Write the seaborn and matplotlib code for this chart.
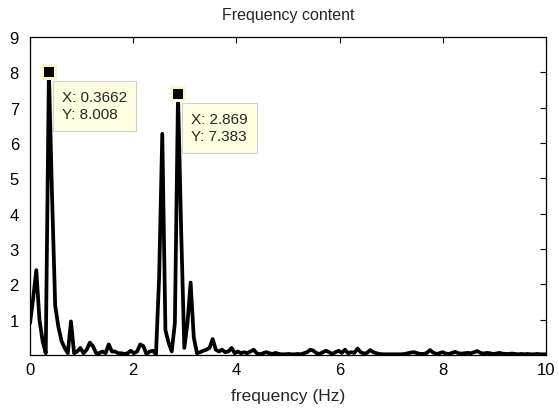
import numpy as np
import pandas as pd
import matplotlib
matplotlib.use("Agg")
import matplotlib.pyplot as plt
import seaborn as sns

# frequency resolution of the spectrum (Hz per bin)
df_hz = 0.061035
amplitude = [
    0.9, 1.6, 2.4, 1.0, 0.4, 0.05, 8.008, 4.5, 1.4, 0.8,
    0.4, 0.2, 0.05, 0.95, 0.05, 0.1, 0.2, 0.05, 0.15, 0.35,
    0.25, 0.05, 0.05, 0.1, 0.05, 0.3, 0.1, 0.1, 0.05, 0.05,
    0.03, 0.05, 0.12, 0.05, 0.1, 0.3, 0.25, 0.02, 0.1, 0.12,
    0.02, 2.2, 6.26, 0.7, 0.35, 0.1, 0.9, 7.383, 3.5, 0.2,
    0.9, 2.05, 0.5, 0.05, 0.08, 0.12, 0.15, 0.2, 0.45, 0.15,
    0.1, 0.15, 0.08, 0.1, 0.2, 0.05, 0.1, 0.05, 0.08, 0.05,
    0.1, 0.15, 0.05, 0.02, 0.05, 0.08, 0.05, 0.03, 0.06, 0.03,
    0.02, 0.02, 0.03, 0.02, 0.02, 0.03, 0.02, 0.05, 0.08, 0.15,
    0.12, 0.05, 0.03, 0.08, 0.12, 0.08, 0.03, 0.08, 0.12, 0.06,
    0.15, 0.05, 0.08, 0.06, 0.18, 0.08, 0.04, 0.06, 0.14, 0.08,
    0.05, 0.03, 0.02, 0.02, 0.02, 0.02, 0.02, 0.02, 0.02, 0.03,
    0.05, 0.07, 0.08, 0.05, 0.03, 0.03, 0.06, 0.14, 0.07, 0.03,
    0.05, 0.08, 0.04, 0.03, 0.06, 0.09, 0.05, 0.04, 0.05, 0.06,
    0.05, 0.08, 0.11, 0.06, 0.04, 0.06, 0.05, 0.03, 0.04, 0.06,
    0.04, 0.03, 0.03, 0.04, 0.03, 0.02, 0.03, 0.02, 0.03, 0.02,
    0.02, 0.03, 0.02, 0.02, 0.02,
]
frequency = np.arange(len(amplitude)) * df_hz

# data tips
tip_x = [0.3662, 2.869]
tip_y = [8.008, 7.383]

x_ticks = [0, 2, 4, 6, 8, 10]
y_ticks = [1, 2, 3, 4, 5, 6, 7, 8, 9]

sns.set_style("white")
plt.rcParams["font.family"] = ["Liberation Sans", "DejaVu Sans"]

data = pd.DataFrame({"frequency": frequency, "amplitude": amplitude})

fig = plt.figure(figsize=(5.59, 4.14), dpi=100)
ax = fig.add_axes([30 / 559, 1 - 356 / 414, 516 / 559, (356 - 38) / 414])

sns.lineplot(data=data, x="frequency", y="amplitude", ax=ax,
             color="black", linewidth=2.7, estimator=None, sort=False)

ax.set_xlim(0, 10)
ax.set_ylim(0, 9)
ax.set_xticks(x_ticks)
ax.set_xticklabels([str(t) for t in x_ticks])
ax.set_yticks(y_ticks)
ax.set_yticklabels([str(t) for t in y_ticks])
ax.tick_params(direction="in", length=4, width=0.8, top=True, right=True,
               labelsize=12, colors="black", pad=5)
ax.tick_params(axis="y", pad=8)
for sp in ax.spines.values():
    sp.set_visible(True)
    sp.set_color("black")
    sp.set_linewidth(0.9)

ax.set_xlabel("frequency (Hz)", fontsize=12.5, labelpad=8)
ax.set_ylabel("")
ax.set_title("Frequency content", fontsize=11.5, pad=13)

for x, y in zip(tip_x, tip_y):
    ax.plot([x], [y], marker="s", markersize=11.5, color="#fbf8cf",
            markeredgewidth=0, zorder=5, clip_on=False)
    ax.plot([x], [y], marker="s", markersize=7.5, color="black",
            markeredgewidth=0, zorder=6, clip_on=False)
    ax.annotate(f"X: {x:.4g}\nY: {y:.4g}", xy=(x, y),
                xytext=(13, -18), textcoords="offset pixels",
                ha="left", va="top", fontsize=11, linespacing=1.3,
                bbox=dict(boxstyle="square,pad=0.6", facecolor="#ffffe1",
                          edgecolor="#cfcfcf", linewidth=0.8),
                zorder=7)

fig.savefig("out.png", dpi=100)
